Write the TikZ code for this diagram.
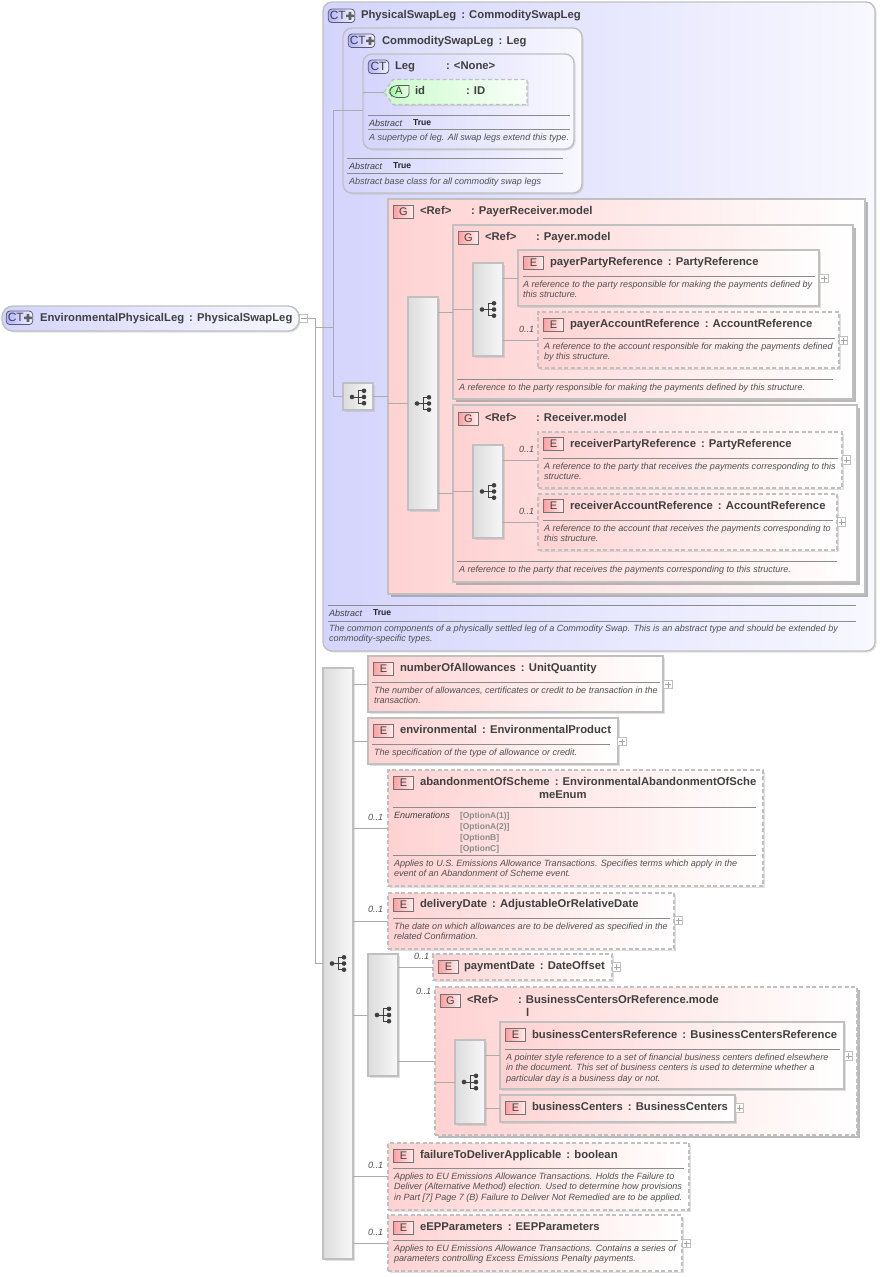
\documentclass[tikz,border=0pt]{standalone}
\usepackage{fontspec}
\setmainfont{Liberation Sans}
\usetikzlibrary{shadows}
\definecolor{txtc}{HTML}{404040}
\definecolor{dscc}{HTML}{505050}
\definecolor{brd}{HTML}{C0C0C0}
\definecolor{conc}{HTML}{ABABAB}
\definecolor{bluel}{HTML}{D4D4FD}
\definecolor{bluer}{HTML}{F8F8FF}
\definecolor{pinkl}{HTML}{FFD2D2}
\definecolor{greenl}{HTML}{CCFCCC}
\definecolor{greenr}{HTML}{F8FFF8}
\definecolor{seqd}{HTML}{DCDCDC}
\definecolor{seql}{HTML}{F8F8F8}
\definecolor{icob}{HTML}{5A5A6A}
\newcounter{tc}
\tikzset{
  softsh/.style={drop shadow={shadow xshift=1.5pt,shadow yshift=-1.5pt,fill=black!30,opacity=.4}},
  hardsh/.style={drop shadow={shadow xshift=2.5pt,shadow yshift=-2.5pt,fill=black!45,opacity=.6}},
  basebox/.style={rectangle,inner sep=0pt,outer sep=0pt,draw=brd,line width=1.35pt,text opacity=1},
  ctbox/.style={basebox,rounded corners=9pt,left color=bluel,right color=bluer,softsh},
  elbox/.style={basebox,left color=pinkl,right color=white,softsh},
  optbox/.style={elbox,dash pattern=on 4pt off 2.5pt},
  gbox/.style={basebox,left color=pinkl,right color=white,hardsh},
  goptbox/.style={gbox,dash pattern=on 4pt off 2.5pt},
  seqbox/.style={basebox,left color=seqd,right color=seql,softsh},
  pmbox/.style={rectangle,inner sep=0pt,outer sep=0pt,draw=brd,line width=.6pt,fill=white,minimum size=8.5pt},
  conn/.style={draw=conc,line width=.8pt},
  sep/.style={draw=black!45,line width=.6pt},
  txt/.style={inner sep=0pt,outer sep=0pt,anchor=mid west},
  ttl/.style={txt,yshift=-.9pt,text=txtc,font=\fontsize{11.28}{12}\selectfont\bfseries},
  dsc/.style={txt,yshift=-.7pt,text=dscc,font=\fontsize{9.05}{10}\selectfont\itshape},
  abst/.style={dsc,text=black!75},
  tru/.style={txt,yshift=-.5pt,text=black!85,font=\fontsize{8.6}{9}\selectfont\bfseries},
  enumv/.style={txt,yshift=-.5pt,text=black!45,font=\fontsize{8.5}{9}\selectfont\bfseries},
  occ/.style={dsc},
  icoe/.style={rectangle,inner sep=0pt,outer sep=0pt,draw=black!55,line width=.7pt,left color=red!38,right color=red!6,minimum width=20.5pt,minimum height=13.5pt,text=txtc,font=\fontsize{11}{12}\selectfont},
  icoc/.style={rectangle,rounded corners=3.5pt,inner sep=0pt,outer sep=0pt,draw=icob,line width=.8pt,left color=blue!30,right color=blue!4,minimum height=13.5pt,text=txtc,font=\fontsize{12}{12}\selectfont},
}
\newcommand\tx[4][ttl]{\stepcounter{tc}\node[#1] (t\arabic{tc}) at (#2,#3) {#4};}
\newcommand\bx[6]{\node[#1,minimum width={(#5-#3)*1pt},minimum height={(#6-#4)*1pt}] (#2) at ({(#3+#5)/2},{(#4+#6)/2}) {};}
% E / G icon: letter, x, y of top left
\newcommand\ico[3]{\stepcounter{tc}\node[icoe] (t\arabic{tc}) at ({#2+10.5},{#3+7}) {#1};}
% CT with plus
\newcommand\ctp[2]{\stepcounter{tc}\node[icoc,minimum width=26.5pt,text width=24pt,align=left] (t\arabic{tc}) at ({#1+13.5},{#2+6.8}) {\hspace{.3pt}CT};
  \fill[black!62] ({#1+18},{#2+5.6}) rectangle ({#1+26},{#2+8.2}) ({#1+20.7},{#2+2.9}) rectangle ({#1+23.3},{#2+10.9});}
\newcommand\ctn[2]{\stepcounter{tc}\node[icoc,minimum width=20.5pt] (t\arabic{tc}) at ({#1+10.5},{#2+6.8}) {CT};}
% sequence glyph
\newcommand\sq[2]{\begin{scope}[shift={(#1,#2)}]
  \draw[black!75,line width=.8pt] (-6,0) -- (0,0) (6,-6.2) -- (0,-6.2) -- (0,6.2) -- (6,6.2) (0,0) -- (6,0);
  \fill[black!75] (-6,0) circle (2.3) (6,-6.2) circle (2.3) (6,0) circle (2.3) (6,6.2) circle (2.3);
\end{scope}}
\newcommand\plusb[3]{\node[pmbox] (#1) at (#2,#3) {};
  \draw[black!35,line width=.6pt] ({#2-3},#3) -- ({#2+3},#3) (#2,{#3-3}) -- (#2,{#3+3});}
\newcommand\hl[3]{\draw[sep] (#1,#3) -- (#2,#3);}
\begin{document}
\begin{tikzpicture}[x=1pt,y=-1pt]
\useasboundingbox (0,0) rectangle (879,1277);
% ===== root
\bx{ctbox,rounded corners=11pt}{root}{2}{306}{299}{331}
\ctp{6}{311}
\tx{40}{317.5}{EnvironmentalPhysicalLeg\, : PhysicalSwapLeg}
\node[pmbox] (rootm) at (303.5,318.5) {};
\draw[black!35,line width=.6pt] (300.5,318.5) -- (306.5,318.5);
% ===== PhysicalSwapLeg panel
\bx{ctbox}{psl}{323}{2}{875}{651}
\ctp{328}{9}
\tx{361}{14.5}{PhysicalSwapLeg\, : CommoditySwapLeg}
% CommoditySwapLeg
\bx{ctbox}{csl}{343}{28}{582}{193}
\ctp{348}{34}
\tx{382}{40.5}{CommoditySwapLeg\, : Leg}
% Leg
\bx{ctbox}{leg}{363}{54}{574}{149}
\ctn{368}{60}
\tx{395}{66}{Leg}
\tx{446}{66}{: <None>}
% attribute
\coordinate (atip) at (384,92);
\draw[draw=brd,line width=1.35pt,dash pattern=on 4pt off 2.5pt,left color=greenl,right color=greenr,softsh] (atip) -- (393,79.5) -- (527,79.5) -- (527,104.5) -- (393,104.5) -- cycle;
\draw[draw=icob,line width=.8pt,left color=green!40!white,right color=green!8!white,rounded corners=4pt] (409,85.5) -- (393,85.5) -- (388.5,91.5) -- (393,97.5) -- (409,97.5) [sharp corners] -- cycle;
\tx[txt,text=txtc,font=\fontsize{11}{12}\selectfont]{395}{92}{A}
\tx{415}{91}{id}
\tx{466}{91}{: ID}
\hl{368}{570}{115.5}
\tx[abst]{369}{123}{Abstract}
\tx[tru]{413}{122.5}{True}
\hl{368}{570}{129.5}
\tx[dsc]{369}{137}{A supertype of leg. All swap legs extend this type.}
\hl{347}{563}{158}
\tx[abst]{349}{166}{Abstract}
\tx[tru]{393}{165.5}{True}
\hl{347}{563}{173}
\tx[dsc]{349}{181}{Abstract base class for all commodity swap legs}
% seq0 and PayerReceiver
\bx{seqbox}{seq0}{343}{383}{373}{410}
\sq{358}{397}
\bx{gbox}{prg}{388}{199}{865}{594}
\ico{G}{393}{205}
\tx{420}{210.5}{<Ref>}
\tx{471}{210.5}{: PayerReceiver.model}
\bx{seqbox}{seqa}{408}{297}{438}{510}
\sq{423}{403.5}
% Payer.model
\bx{gbox}{pay}{453}{225}{853}{399}
\ico{G}{458}{231}
\tx{485}{236.5}{<Ref>}
\tx{536}{236.5}{: Payer.model}
\bx{seqbox}{seqb}{473}{263}{503}{356}
\sq{488}{309.5}
\bx{elbox}{ppr}{518}{250}{819}{306}
\ico{E}{523}{256}
\tx{550}{262}{payerPartyReference\, : PartyReference}
\hl{523}{815}{276}
\tx[dsc]{523}{284}{A reference to the party responsible for making the payments defined by}
\tx[dsc]{523}{294}{this structure.}
\plusb{pppl}{824}{278.5}
\bx{optbox}{par}{538}{312}{839}{368}
\ico{E}{543}{318}
\tx{570}{324}{payerAccountReference\, : AccountReference}
\hl{543}{835}{338}
\tx[dsc]{544}{346}{A reference to the account responsible for making the payments defined}
\tx[dsc]{544}{356}{by this structure.}
\plusb{parpl}{843.5}{340.5}
\tx[occ]{519}{329}{0..1}
\hl{457}{833}{379.5}
\tx[dsc]{459}{387}{A reference to the party responsible for making the payments defined by this structure.}
% Receiver.model
\bx{gbox}{rec}{453}{405}{857}{582}
\ico{G}{458}{412}
\tx{485}{418}{<Ref>}
\tx{536}{418}{: Receiver.model}
\bx{seqbox}{seqc}{473}{445}{503}{538}
\sq{488}{491.5}
\bx{optbox}{rpr}{538}{432}{842}{488}
\ico{E}{543}{437}
\tx{570}{443.5}{receiverPartyReference\, : PartyReference}
\hl{543}{838}{458}
\tx[dsc]{544}{466}{A reference to the party that receives the payments corresponding to this}
\tx[dsc]{544}{476}{structure.}
\plusb{rprpl}{846.5}{460}
\tx[occ]{519}{449}{0..1}
\bx{optbox}{rar}{538}{494}{837}{550}
\ico{E}{543}{499}
\tx{570}{505.5}{receiverAccountReference\, : AccountReference}
\hl{543}{833}{520}
\tx[dsc]{544}{528}{A reference to the account that receives the payments corresponding to}
\tx[dsc]{544}{538}{this structure.}
\plusb{rarpl}{841.5}{522}
\tx[occ]{519}{511}{0..1}
\hl{457}{837}{561}
\tx[dsc]{459}{569}{A reference to the party that receives the payments corresponding to this structure.}
% panel footer
\hl{328}{856}{605}
\tx[abst]{329}{613}{Abstract}
\tx[tru]{373}{612.5}{True}
\hl{328}{856}{621}
\tx[dsc]{329}{628}{The common components of a physically settled leg of a Commodity Swap. This is an abstract type and should be extended by}
\tx[dsc]{329}{638}{commodity-specific types.}
% ===== main sequence
\bx{seqbox}{seq1}{323}{668}{353}{1259}
\sq{338}{963.5}
\bx{elbox}{noa}{368}{656}{663}{712}
\ico{E}{373}{662}
\tx{400}{667.5}{numberOfAllowances\, : UnitQuantity}
\hl{372}{660}{682}
\tx[dsc]{374}{690}{The number of allowances, certificates or credit to be transaction in the}
\tx[dsc]{374}{700}{transaction.}
\plusb{noapl}{668}{684.5}
\bx{elbox}{env}{368}{718}{618}{764}
\ico{E}{373}{724}
\tx{400}{729.5}{environmental\, : EnvironmentalProduct}
\hl{372}{610}{744}
\tx[dsc]{374}{752}{The specification of the type of allowance or credit.}
\plusb{envpl}{622}{741.5}
\bx{optbox}{aos}{388}{770}{763}{886}
\ico{E}{393}{776}
\tx{420}{781.5}{abandonmentOfScheme\, : EnvironmentalAbandonmentOfSche}
\tx{539}{794.5}{meEnum}
\hl{393}{756}{807}
\tx[abst]{394}{815}{Enumerations}
\tx[enumv]{460}{815}{[OptionA(1)]}
\tx[enumv]{460}{826}{[OptionA(2)]}
\tx[enumv]{460}{837}{[OptionB]}
\tx[enumv]{460}{848}{[OptionC]}
\hl{393}{756}{855}
\tx[dsc]{394}{863}{Applies to U.S. Emissions Allowance Transactions. Specifies terms which apply in the}
\tx[dsc]{394}{873}{event of an Abandonment of Scheme event.}
\tx[occ]{368}{817}{0..1}
\bx{optbox}{dd}{388}{893}{674}{949}
\ico{E}{393}{898}
\tx{420}{904}{deliveryDate\, : AdjustableOrRelativeDate}
\hl{393}{670}{918}
\tx[dsc]{394}{926}{The date on which allowances are to be delivered as specified in the}
\tx[dsc]{394}{936}{related Confirmation.}
\plusb{ddpl}{678.5}{920.5}
\tx[occ]{368}{909}{0..1}
\bx{seqbox}{seq2}{368}{954}{398}{1076}
\sq{383}{1015}
\bx{optbox}{pd}{433}{954}{612}{980}
\ico{E}{438}{960}
\tx{464}{966}{paymentDate\, : DateOffset}
\plusb{pdpl}{616.5}{967}
\tx[occ]{414}{956}{0..1}
\bx{goptbox}{bcr}{435}{987}{857}{1135}
\ico{G}{440}{994}
\tx{467}{999.5}{<Ref>}
\tx{518}{999.5}{: BusinessCentersOrReference.mode}
\tx{526}{1012.5}{l}
\tx[occ]{416}{991}{0..1}
\bx{seqbox}{seqd}{455}{1040}{485}{1124}
\sq{470}{1082}
\bx{elbox}{bcref}{500}{1022}{844}{1089}
\ico{E}{505}{1028}
\tx{532}{1034.5}{businessCentersReference\, : BusinessCentersReference}
\hl{505}{840}{1049}
\tx[dsc]{506}{1057}{A pointer style reference to a set of financial business centers defined elsewhere}
\tx[dsc]{506}{1067}{in the document. This set of business centers is used to determine whether a}
\tx[dsc]{506}{1078}{particular day is a business day or not.}
\plusb{bcrefpl}{848.5}{1056}
\bx{elbox}{bc}{500}{1095}{735}{1122}
\ico{E}{505}{1101}
\tx{532}{1106.5}{businessCenters\, : BusinessCenters}
\plusb{bcpl}{739.5}{1108}
\bx{optbox}{ftd}{388}{1143}{689}{1210}
\ico{E}{393}{1149}
\tx{420}{1154.5}{failureToDeliverApplicable\, : boolean}
\hl{393}{684}{1168}
\tx[dsc]{394}{1176}{Applies to EU Emissions Allowance Transactions. Holds the Failure to}
\tx[dsc]{394}{1186}{Deliver (Alternative Method) election. Used to determine how provisions}
\tx[dsc]{394}{1197}{in Part [7] Page 7 (B) Failure to Deliver Not Remedied are to be applied.}
\tx[occ]{368}{1165}{0..1}
\bx{optbox}{eep}{388}{1215}{682}{1271}
\ico{E}{393}{1221}
\tx{420}{1226.5}{eEPParameters\, : EEPParameters}
\hl{393}{678}{1240}
\tx[dsc]{394}{1248}{Applies to EU Emissions Allowance Transactions. Contains a series of}
\tx[dsc]{394}{1258}{parameters controlling Excess Emissions Penalty payments.}
\plusb{eeppl}{686.5}{1243.5}
\tx[occ]{368}{1232}{0..1}
% ===== connectors
\coordinate (b1) at (315,318.5);
\coordinate (b2) at (315,327);
\coordinate (b3) at (333,327);
\draw[conn] (rootm.east) -- (b1) |- (seq1.west);
\draw[conn] (b2) -- (b3);
\draw[conn] (b3) |- (csl.west);
\draw[conn] (b3) |- (seq0.west);
\draw[conn] (csl.west) -- (csl.west -| leg.west);
\draw[conn] (leg.west |- atip) -- (atip);
\draw[conn] (seq0.east) -- (prg.west);
\draw[conn] (prg.west |- seqa.west) -- (seqa.west);
\draw[conn] (seqa.east |- pay.west) -- (pay.west);
\draw[conn] (seqa.east |- rec.west) -- (rec.west);
\draw[conn] (pay.west |- seqb.west) -- (seqb.west);
\draw[conn] (seqb.east |- ppr.west) -- (ppr.west);
\draw[conn] (seqb.east |- par.west) -- (par.west);
\draw[conn] (rec.west |- seqc.west) -- (seqc.west);
\draw[conn] (seqc.east |- rpr.west) -- (rpr.west);
\draw[conn] (seqc.east |- rar.west) -- (rar.west);
\draw[conn] (seq1.east |- noa.west) -- (noa.west);
\draw[conn] (seq1.east |- env.west) -- (env.west);
\draw[conn] (seq1.east |- aos.west) -- (aos.west);
\draw[conn] (seq1.east |- dd.west) -- (dd.west);
\draw[conn] (seq1.east |- seq2.west) -- (seq2.west);
\draw[conn] (seq1.east |- ftd.west) -- (ftd.west);
\draw[conn] (seq1.east |- eep.west) -- (eep.west);
\draw[conn] (seq2.east |- pd.west) -- (pd.west);
\draw[conn] (seq2.east |- bcr.west) -- (bcr.west);
\draw[conn] (bcr.west |- seqd.west) -- (seqd.west);
\draw[conn] (seqd.east |- bcref.west) -- (bcref.west);
\draw[conn] (seqd.east |- bc.west) -- (bc.west);
\end{tikzpicture}
\end{document}
